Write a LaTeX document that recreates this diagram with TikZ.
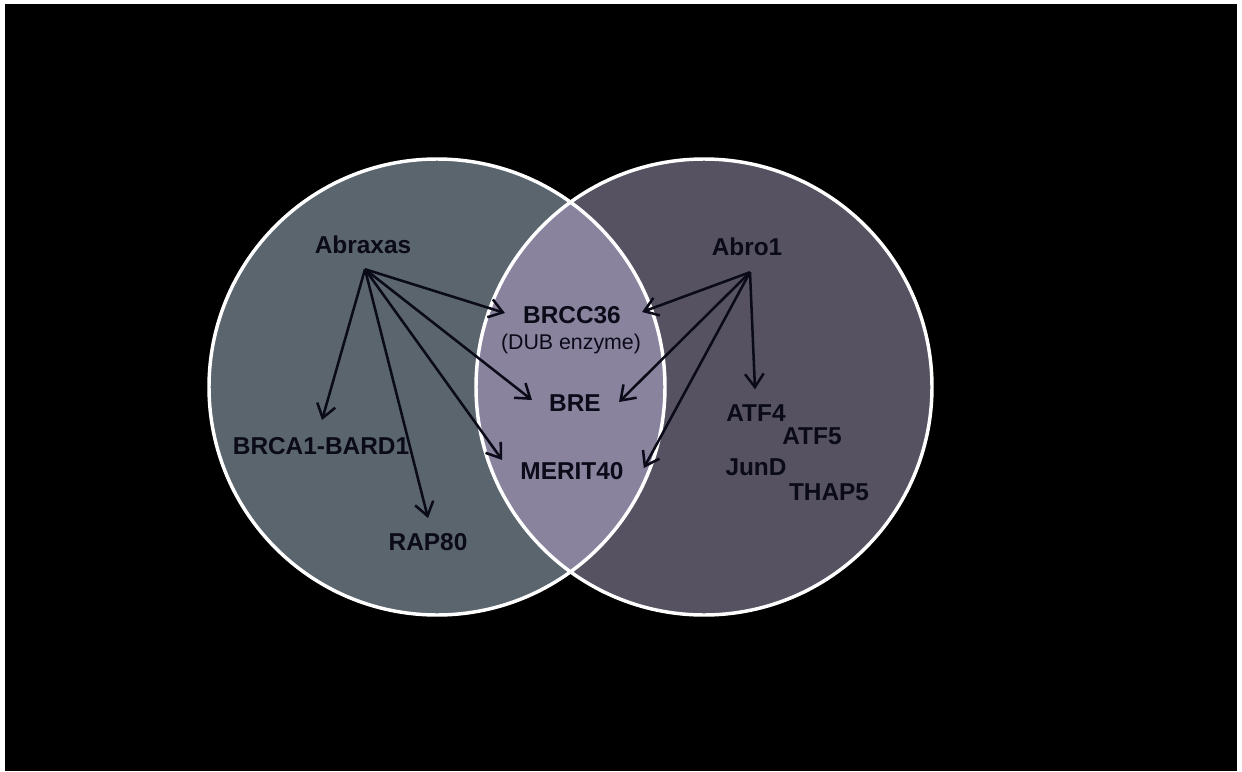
\documentclass[tikz,border=0pt]{standalone}
\usepackage{fontspec}
\setmainfont{Liberation Sans}
\usepackage{tikz}
\usetikzlibrary{arrows.meta,calc}
\definecolor{abxfill}{RGB}{91,101,110}
\definecolor{abrofill}{RGB}{87,82,97}
\definecolor{overlapfill}{RGB}{138,131,158}
\definecolor{inkdark}{RGB}{10,10,24}

\begin{document}
\begin{tikzpicture}[x=0.75pt,y=-0.75pt,
   lbl/.style={inner sep=0pt,text=inkdark,font=\fontsize{18.3}{20}\selectfont\bfseries},
   sublbl/.style={inner sep=0pt,text=inkdark,font=\fontsize{16}{18}\selectfont},
   arr/.style={draw=inkdark,line width=1.9pt,-{Straight Barb[length=10pt,width=14pt]}},
   ring/.style={draw=white,line width=2.6pt}]
\useasboundingbox (0,0) rectangle (1242,771);
\fill[white] (0,0) rectangle (1242,771);
\fill[black] (5,4) rectangle (1237,771);
% the two sets
\fill[abxfill] (437,387) circle (228);
\fill[abrofill] (704,387) circle (228);
\begin{scope}
   \clip (437,387) circle (228);
   \fill[overlapfill] (704,387) circle (228);
\end{scope}
\draw[ring] (437,387) circle (228);
\draw[ring] (704,387) circle (228);
% labels
\node[lbl] (abraxas) at (363,245) {Abraxas};
\node[lbl] (abro1) at (747,247) {Abro1};
\node[lbl] (brcc36) at (572,315) {BRCC36};
\node[sublbl] (dub) at (571,344) {(DUB enzyme)};
\node[lbl] (bre) at (575,403) {BRE};
\node[lbl] (merit40) at (572,471) {MERIT40};
\node[lbl] (brca1) at (321,446) {BRCA1-BARD1};
\node[lbl] (rap80) at (428,542) {RAP80};
\node[lbl] (atf4) at (756,413) {ATF4};
\node[lbl] (atf5) at (812,436) {ATF5};
\node[lbl] (jund) at (756,467) {JunD};
\node[lbl] (thap5) at (829,492) {THAP5};
\coordinate (abxfork) at ($(abraxas.south)+(2,15)$);
\coordinate (abrofork) at ($(abro1.south)+(3,16)$);
% arrows
\foreach \dst/\dx/\dy in %
{brcc36.west/-18/-2,bre.west/-17/-3,merit40.west/-18/-11,brca1.north/1/-17,rap80.north/0/-15} {
   \draw[arr] (abxfork) -- ($(\dst)+(\dx,\dy)$);
}
\foreach \dst/\dx/\dy in %
{brcc36.east/21/-3,bre.east/18/-1,merit40.east/20/-3,atf4.north/-1/-15} {
   \draw[arr] (abrofork) -- ($(\dst)+(\dx,\dy)$);
}
\end{tikzpicture}
\end{document}
